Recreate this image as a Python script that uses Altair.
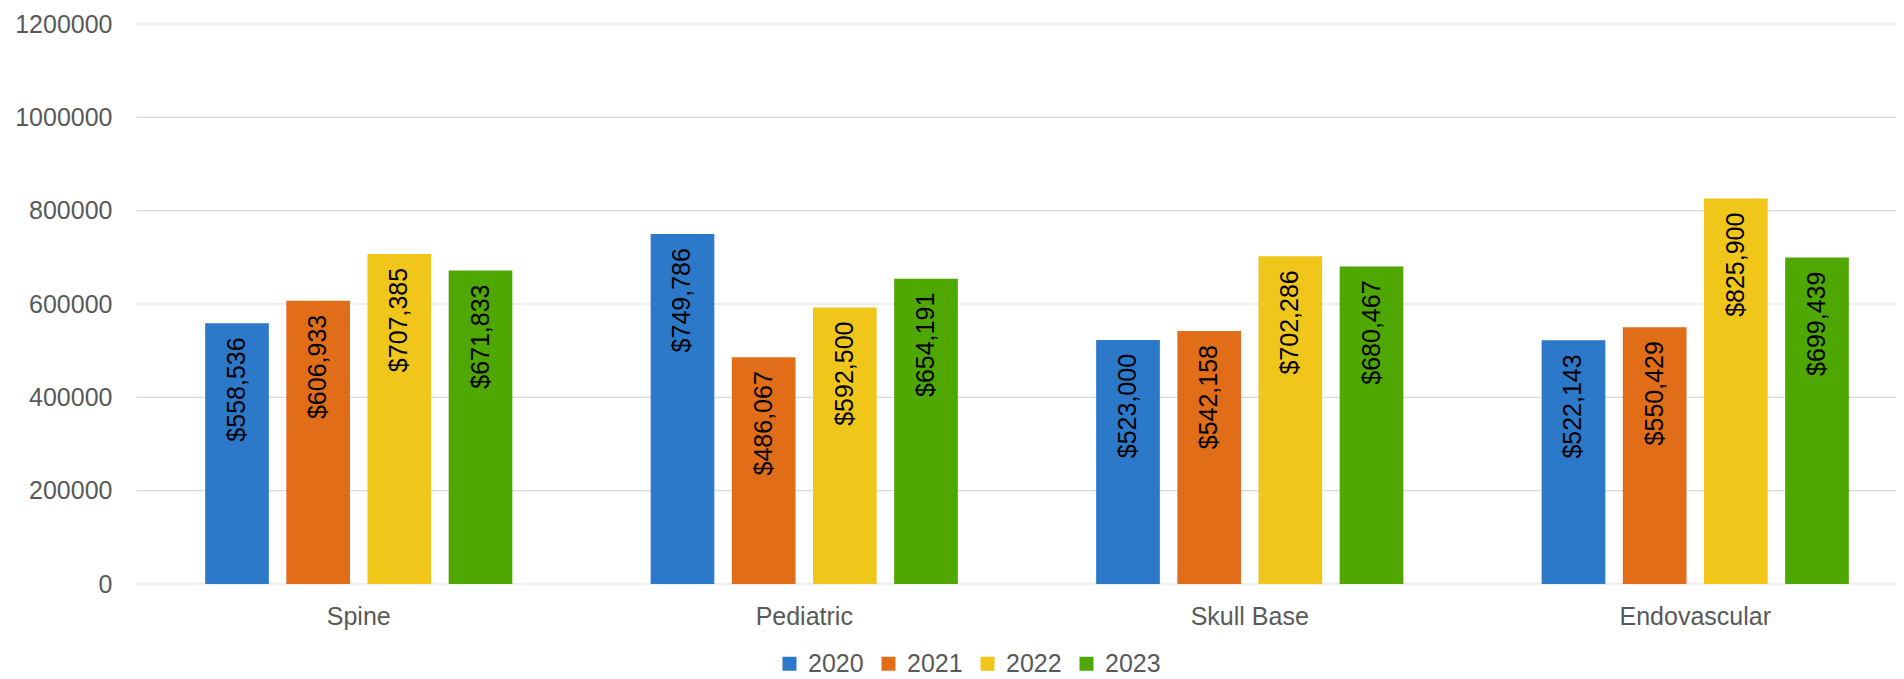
import altair as alt
import pandas as pd

categories = ["Spine", "Pediatric", "Skull Base", "Endovascular"]
years = ["2020", "2021", "2022", "2023"]
values_2020 = [558536, 749786, 523000, 522143]
values_2021 = [606933, 486067, 542158, 550429]
values_2022 = [707385, 592500, 702286, 825900]
values_2023 = [671833, 654191, 680467, 699439]
colors = ["#2C78C9", "#E16D19", "#F0C61A", "#4FA702"]
y_ticks = [0, 200000, 400000, 600000, 800000, 1000000, 1200000]

series = [values_2020, values_2021, values_2022, values_2023]
rows = []
for yr, vals in zip(years, series):
    for cat, v in zip(categories, vals):
        rows.append({"Category": cat, "Year": yr, "Value": v})
df = pd.DataFrame(rows)
grid_df = pd.DataFrame({"tick": y_ticks})

FONT = "Liberation Sans"
W, H = 1759, 560

yscale = alt.Scale(domain=[0, 1200000], nice=False)

x = alt.X("Category:N", sort=categories, title=None,
          scale=alt.Scale(paddingInner=0, paddingOuter=0, range=[-1, 1781]),
          axis=alt.Axis(labelAngle=0, labelFontSize=25, labelColor="#595959", labelFont=FONT,
                        ticks=False, tickSize=0, domain=False, labelPadding=20, grid=False))
xoff = alt.XOffset("Year:N", sort=years,
                   scale=alt.Scale(paddingInner=0.2155, paddingOuter=0.852))
y = alt.Y("Value:Q", title=None, scale=yscale,
          axis=alt.Axis(values=y_ticks, format="d", labelFontSize=25, labelColor="#595959",
                        labelFont=FONT, ticks=False, tickSize=0, domain=False,
                        labelPadding=25, grid=False))
color = alt.Color("Year:N", sort=years, scale=alt.Scale(domain=years, range=colors),
                  legend=alt.Legend(title=None, orient="none", direction="horizontal",
                                    legendX=640, legendY=627, symbolType="square",
                                    symbolSize=196, symbolStrokeWidth=0, symbolOpacity=1,
                                    labelFontSize=25, labelColor="#595959", labelFont=FONT,
                                    labelOffset=6, columnPadding=12, padding=0))

grid = alt.Chart(grid_df).mark_rule(color="#d9d9d9", strokeWidth=1.2).encode(
    y=alt.Y("tick:Q", scale=yscale), x=alt.value(0), x2=alt.value(W))

base = alt.Chart(df)
bars = base.mark_bar().encode(x=x, xOffset=xoff, y=y, color=color)
labels = base.mark_text(angle=270, align="right", baseline="middle", dx=-14,
                        fontSize=25, font=FONT, color="#000000").encode(
    x=alt.X("Category:N", sort=categories), xOffset=alt.XOffset("Year:N", sort=years),
    y=alt.Y("Value:Q"), text=alt.Text("Value:Q", format="$,.0f"))

chart = alt.layer(grid, bars, labels).properties(
    width=W, height=H,
    autosize=alt.AutoSizeParams(type="none"),
    padding={"left": 129, "top": 16, "right": 0, "bottom": 95}
).configure(font=FONT).configure_view(stroke="transparent")

chart.save("out.html", embed_options={"renderer": "svg", "actions": False})
